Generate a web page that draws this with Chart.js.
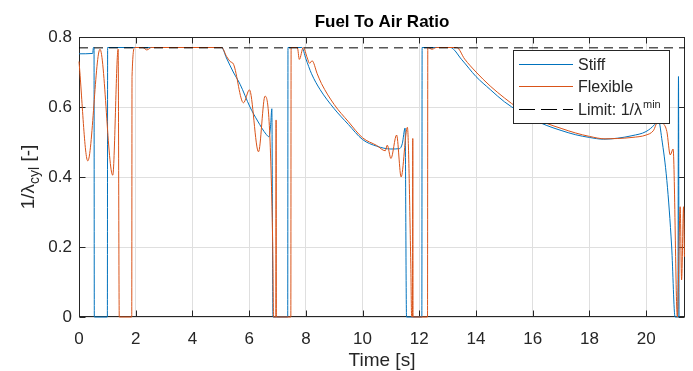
<!DOCTYPE html>
<html>
<head>
<meta charset="utf-8">
<script src="https://cdn.jsdelivr.net/npm/chart.js@4.4.1/dist/chart.umd.min.js"></script>
<style>
  body { margin: 0; background: #fff; }
  canvas { display: block; }
</style>
</head>
<body>
<canvas id="chart" width="693" height="371"></canvas>
<script>
// values
const stiffTime = [0, 0.48, 0.51, 0.53, 0.54, 1.0, 1.01, 5.03, 5.2, 5.44, 5.68, 6.03, 6.3, 6.6, 6.7, 6.76, 6.8, 6.84,
  7.36, 7.37, 7.86, 8.0, 8.2, 8.5, 9.0, 9.5, 10.0, 10.5, 11.0, 11.3, 11.4, 11.5, 11.55, 12.09, 12.1, 13.09, 13.5,
  14.0, 14.5, 15.0, 15.5, 16.0, 16.5, 17.0, 17.5, 18.0, 18.5, 19.0, 19.5, 20.0, 20.3, 20.43, 20.55, 20.73, 20.9,
  21.02, 21.12, 21.14, 21.16];
const stiffRatio = [0.752, 0.753, 0.77, 0.77, 0, 0, 0.77, 0.77, 0.74, 0.70, 0.665, 0.60, 0.56, 0.522, 0.515, 0.55, 0.595, 0,
  0, 0.77, 0.77, 0.738, 0.695, 0.65, 0.595, 0.55, 0.507, 0.488, 0.48, 0.481, 0.495, 0.54, 0, 0, 0.77, 0.77, 0.735,
  0.687, 0.65, 0.615, 0.588, 0.565, 0.547, 0.533, 0.521, 0.513, 0.508, 0.511, 0.518, 0.53, 0.55, 0.565, 0.51, 0.39, 0.2,
  0, 0, 0.687, 0];

const flexTime = [0, 0.31, 0.74, 1.19, 1.38, 1.42, 1.86, 1.87, 1.97, 2.25, 2.39, 2.55, 5.03, 5.2, 5.33, 5.45, 5.8, 6.01,
  6.33, 6.56, 6.83, 6.86, 6.94, 6.95, 6.96, 7.47, 7.48, 7.7, 7.77, 7.91, 8.05, 8.13, 8.22, 8.4, 8.55, 9.0, 9.5, 10.0,
  10.5, 10.8, 10.87, 11.0, 11.2, 11.36, 11.58, 11.7, 11.73, 11.76, 11.77, 11.78, 12.29, 12.3, 12.45, 12.6, 13.32,
  13.6, 14.0, 14.5, 15.0, 15.5, 16.0, 16.5, 17.0, 17.5, 18.0, 18.55, 19.0, 19.5, 20.0, 20.25, 20.43, 20.6, 20.73,
  20.85, 20.95, 21.1, 21.2, 21.25, 21.32, 21.35];
const flexRatio = [0.73, 0.446, 0.765, 0.405, 0.765, 0, 0, 0.687, 0.77, 0.77, 0.763, 0.77, 0.77, 0.745, 0.73, 0.722, 0.612, 0.649,
  0.472, 0.631, 0.215, 0, 0, 0.563, 0, 0, 0.77, 0.77, 0.736, 0.77, 0.74, 0.725, 0.732, 0.695, 0.667, 0.607, 0.558, 0.512,
  0.49, 0.475, 0.491, 0.453, 0.52, 0.40, 0.542, 0.154, 0, 0, 0.51, 0, 0, 0.77, 0.765, 0.77, 0.77,
  0.737, 0.70, 0.66, 0.626, 0.596, 0.572, 0.553, 0.539, 0.526, 0.516, 0.509, 0.51, 0.513, 0.52, 0.532, 0.56, 0.553, 0.53,
  0.463, 0.48, 0, 0.315, 0.106, 0.315, 0.172];

const limitTime = [0, 21.37];
const limitRatio = [0.769, 0.769];

const xTicks = [0, 2, 4, 6, 8, 10, 12, 14, 16, 18, 20];
const yTicks = [0, 0.2, 0.4, 0.6, 0.8];
const yTickLabels = ["0", "0.2", "0.4", "0.6", "0.8"];

const FONT = "'Liberation Sans', Arial, Helvetica, sans-serif";
const AXIS = "#262626";
const BLUE = "#0072BD";
const ORANGE = "#D95319";

const toPoints = (xs, ys) => xs.map((x, i) => ({ x: x, y: ys[i] }));

// box, inward ticks, title and axis labels
const frame = {
  id: "frame",
  beforeDatasetsDraw(chart) {
    const { ctx, chartArea: a, scales } = chart;
    const L = Math.round(a.left) + 0.5, R = Math.round(a.right) - 0.5;
    const T = Math.round(a.top) + 0.5, B = Math.round(a.bottom) - 0.5;
    ctx.save();
    ctx.strokeStyle = AXIS;
    ctx.lineWidth = 1;
    ctx.strokeRect(L, T, R - L, B - T);
    ctx.beginPath();
    xTicks.forEach((v) => {
      const px = Math.round(scales.x.getPixelForValue(v)) + 0.5;
      ctx.moveTo(px, B); ctx.lineTo(px, B - 6);
      ctx.moveTo(px, T); ctx.lineTo(px, T + 6);
    });
    yTicks.forEach((v) => {
      const py = Math.round(scales.y.getPixelForValue(v)) + 0.5;
      ctx.moveTo(L, py); ctx.lineTo(L + 6, py);
      ctx.moveTo(R, py); ctx.lineTo(R - 6, py);
    });
    ctx.stroke();
    ctx.restore();
  },
  afterDraw(chart) {
    const { ctx, chartArea: a } = chart;
    const cx = (a.left + a.right) / 2;
    ctx.save();
    ctx.fillStyle = "#000";
    ctx.font = "bold 17px " + FONT;
    ctx.textAlign = "center";
    ctx.textBaseline = "alphabetic";
    ctx.fillText("Fuel To Air Ratio", cx, 27);

    ctx.fillStyle = AXIS;
    ctx.font = "19px " + FONT;
    ctx.fillText("Time [s]", cx, 366);

    // y label with subscript
    ctx.translate(34, (a.top + a.bottom) / 2);
    ctx.rotate(-Math.PI / 2);
    ctx.textAlign = "left";
    const main = "1/λ", sub = "cyl", tail = " [-]";
    ctx.font = "19px " + FONT;
    const wMain = ctx.measureText(main).width, wTail = ctx.measureText(tail).width;
    ctx.font = "14px " + FONT;
    const wSub = ctx.measureText(sub).width;
    let x = -(wMain + wSub + wTail) / 2;
    ctx.font = "19px " + FONT;
    ctx.fillText(main, x, 0);
    x += wMain;
    ctx.font = "14px " + FONT;
    ctx.fillText(sub, x, 5);
    x += wSub;
    ctx.font = "19px " + FONT;
    ctx.fillText(tail, x, 0);
    ctx.restore();
  },
  afterDatasetsDraw(chart) {
    const { ctx } = chart;
    const box = { left: 513.5, top: 50.5, right: 669.5, bottom: 123.5 };
    ctx.save();
    ctx.fillStyle = "#fff";
    ctx.fillRect(box.left, box.top, box.right - box.left, box.bottom - box.top);
    ctx.strokeStyle = AXIS;
    ctx.lineWidth = 1;
    ctx.strokeRect(box.left, box.top, box.right - box.left, box.bottom - box.top);

    const entries = [
      { y: 64, color: BLUE, dash: [], label: "Stiff" },
      { y: 86, color: ORANGE, dash: [], label: "Flexible" },
      { y: 109, color: "#000", dash: [16, 6], label: "Limit: 1/λ", sup: "min" },
    ];
    entries.forEach((e) => {
      ctx.beginPath();
      ctx.setLineDash(e.dash);
      ctx.strokeStyle = e.color;
      ctx.moveTo(519, e.y + 0.5);
      ctx.lineTo(573, e.y + 0.5);
      ctx.stroke();
      ctx.setLineDash([]);
      ctx.fillStyle = AXIS;
      ctx.font = "16px " + FONT;
      ctx.textAlign = "left";
      ctx.textBaseline = "alphabetic";
      ctx.fillText(e.label, 578, e.y + 6);
      if (e.sup) {
        const w = ctx.measureText(e.label).width;
        ctx.font = "11px " + FONT;
        ctx.fillText(e.sup, 578 + w + 1, e.y - 1);
      }
    });
    ctx.restore();
  },
};

new Chart(document.getElementById("chart"), {
  type: "scatter",
  data: {
    datasets: [
      {
        label: "Stiff",
        data: toPoints(stiffTime, stiffRatio),
        borderColor: BLUE,
        order: 3,
      },
      {
        label: "Flexible",
        data: toPoints(flexTime, flexRatio),
        borderColor: ORANGE,
        order: 2,
      },
      {
        label: "Limit",
        data: toPoints(limitTime, limitRatio),
        borderColor: "#000",
        borderDash: [9, 6],
        order: 1,
      },
    ].map((d) => Object.assign({
      showLine: true,
      pointRadius: 0,
      borderWidth: 1,
      cubicInterpolationMode: "monotone",
      clip: false,
    }, d)),
  },
  options: {
    responsive: false,
    animation: false,
    layout: { padding: { left: 0, top: 37, right: 8, bottom: 0 } },
    plugins: { legend: { display: false }, tooltip: { enabled: false }, title: { display: false } },
    scales: {
      x: {
        type: "linear",
        min: 0,
        max: 21.37,
        afterBuildTicks: (s) => { s.ticks = xTicks.map((v) => ({ value: v })); },
        afterFit: (s) => { s.height = 54; },
        grid: { color: "#dfdfdf", drawTicks: false },
        border: { display: false },
        ticks: {
          autoSkip: false,
          maxRotation: 0,
          padding: 12,
          color: AXIS,
          font: { family: FONT, size: 17 },
          callback: (v) => String(v),
        },
      },
      y: {
        min: 0,
        max: 0.8,
        afterBuildTicks: (s) => { s.ticks = yTicks.map((v) => ({ value: v })); },
        afterFit: (s) => { s.width = 79; },
        grid: { color: "#dfdfdf", drawTicks: false },
        border: { display: false },
        ticks: {
          padding: 7,
          color: AXIS,
          font: { family: FONT, size: 17 },
          callback: (v, i) => yTickLabels[i],
        },
      },
    },
  },
  plugins: [frame],
});
</script>
</body>
</html>
